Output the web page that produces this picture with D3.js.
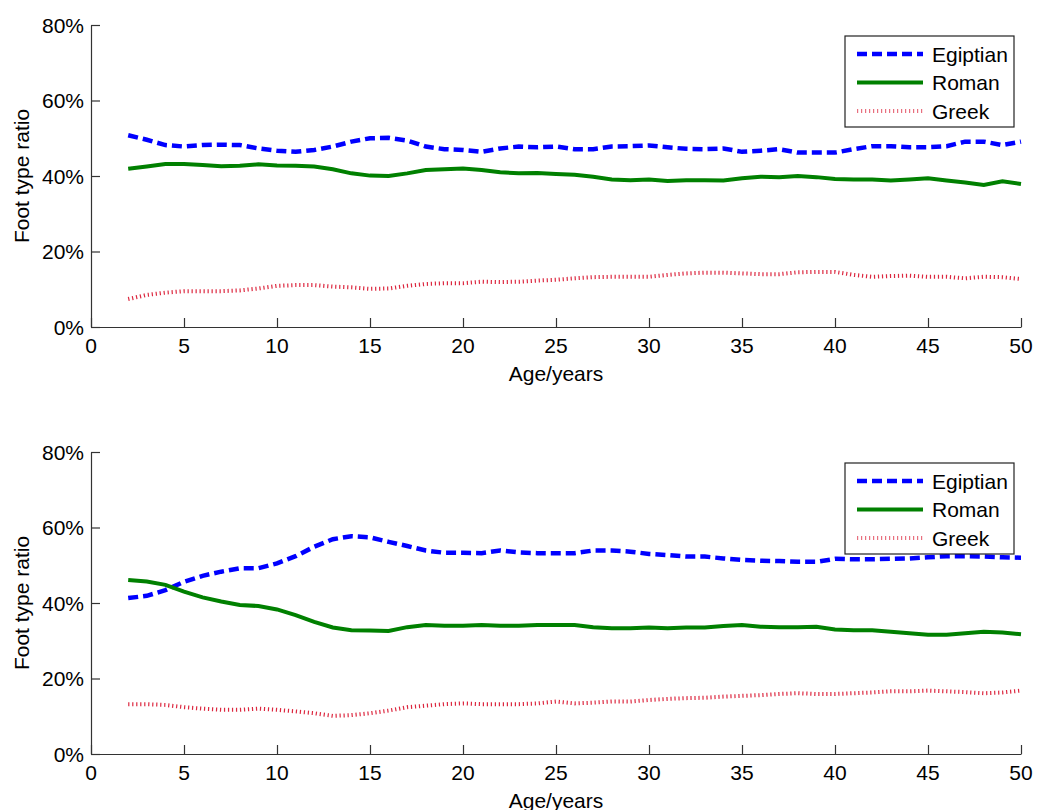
<!DOCTYPE html>
<html>
<head>
<meta charset="utf-8">
<script src="https://cdn.jsdelivr.net/npm/d3@7"></script>
<style>
  body { margin: 0; background: #fff; }
  svg { display: block; font-family: "Liberation Sans", Arial, sans-serif; }
</style>
</head>
<body>
<div id="chart"></div>
<script>
// ages sampled once a year
const ages = d3.range(2, 51);

const xTicks = [0, 5, 10, 15, 20, 25, 30, 35, 40, 45, 50];
const yTicks = [0, 20, 40, 60, 80];
const seriesNames = ["Egiptian", "Roman", "Greek"];

// upper panel (values in %)
const topEgiptian = [50.8, 49.6, 48.2, 47.8, 48.2, 48.3, 48.2, 47.3, 46.7, 46.4, 46.9, 47.8, 49.1, 50.0, 50.1, 49.4, 47.8, 47.1, 46.9, 46.4, 47.3, 47.8, 47.6, 47.8, 47.1, 47.1, 47.8, 47.9, 48.1, 47.6, 47.2, 47.1, 47.3, 46.4, 46.7, 47.1, 46.2, 46.2, 46.2, 47.1, 47.9, 47.9, 47.6, 47.6, 47.9, 49.1, 49.1, 48.2, 49.1];
const topRoman = [41.9, 42.5, 43.2, 43.2, 42.9, 42.6, 42.7, 43.1, 42.8, 42.7, 42.5, 41.8, 40.7, 40.1, 40.0, 40.7, 41.6, 41.8, 42.0, 41.6, 41.0, 40.7, 40.8, 40.5, 40.3, 39.8, 39.1, 38.9, 39.1, 38.7, 38.9, 38.9, 38.8, 39.4, 39.8, 39.7, 40.0, 39.7, 39.2, 39.1, 39.1, 38.8, 39.1, 39.4, 38.8, 38.3, 37.6, 38.6, 37.9];
const topGreek = [7.4, 8.5, 9.1, 9.5, 9.5, 9.5, 9.7, 10.2, 10.9, 11.1, 11.1, 10.7, 10.5, 10.1, 10.2, 10.9, 11.4, 11.6, 11.6, 12.0, 11.9, 12.0, 12.3, 12.5, 12.9, 13.2, 13.3, 13.3, 13.3, 13.8, 14.2, 14.4, 14.4, 14.2, 14.0, 14.0, 14.5, 14.6, 14.6, 13.8, 13.3, 13.5, 13.6, 13.3, 13.3, 12.9, 13.3, 13.2, 12.7];

// lower panel (values in %)
const bottomEgiptian = [41.3, 41.9, 43.4, 45.6, 47.2, 48.3, 49.2, 49.2, 50.5, 52.4, 54.9, 56.9, 57.7, 57.4, 56.2, 55.1, 53.9, 53.3, 53.3, 53.2, 53.9, 53.4, 53.2, 53.2, 53.2, 53.9, 53.9, 53.6, 53.0, 52.7, 52.3, 52.3, 51.8, 51.4, 51.2, 51.1, 50.9, 50.9, 51.7, 51.6, 51.6, 51.7, 51.8, 52.1, 52.4, 52.4, 52.3, 52.1, 52.0];
const bottomRoman = [46.1, 45.7, 44.8, 43.0, 41.5, 40.4, 39.5, 39.2, 38.3, 36.8, 35.0, 33.5, 32.8, 32.7, 32.6, 33.6, 34.2, 34.0, 34.0, 34.2, 34.0, 34.0, 34.2, 34.2, 34.2, 33.6, 33.3, 33.3, 33.5, 33.3, 33.5, 33.5, 33.9, 34.2, 33.7, 33.6, 33.6, 33.7, 33.0, 32.8, 32.8, 32.4, 32.0, 31.6, 31.6, 32.0, 32.4, 32.2, 31.7];
const bottomGreek = [13.2, 13.2, 13.0, 12.4, 12.0, 11.7, 11.7, 12.0, 11.7, 11.3, 10.8, 10.1, 10.3, 10.8, 11.5, 12.4, 12.8, 13.2, 13.4, 13.2, 13.2, 13.2, 13.4, 13.9, 13.4, 13.6, 13.9, 13.9, 14.3, 14.6, 14.8, 14.9, 15.2, 15.4, 15.6, 15.9, 16.1, 15.9, 15.9, 16.1, 16.3, 16.6, 16.6, 16.8, 16.6, 16.4, 16.1, 16.3, 16.8];

const width = 1037, height = 810;
const left = 91, right = 1021;

const styles = {
    Egiptian: { color: "#0000ff", width: 4.5, dash: "10,5", opacity: 1 },
    Roman: { color: "#008000", width: 4, dash: null, opacity: 1 },
    Greek: { color: "#d8102a", width: 4, dash: "1.2,2.8", opacity: 0.9 }
};

const svg = d3.select("#chart").append("svg")
    .attr("width", width)
    .attr("height", height);

const x = d3.scaleLinear().domain([0, 50]).range([left, right]);

function drawPanel(top, bottom, values) {
    const y = d3.scaleLinear().domain([0, 80]).range([bottom, top]);
    const g = svg.append("g");

    // axes, ticks pointing inward like matlab
    const xAxis = g.append("g")
        .attr("transform", `translate(0,${bottom})`)
        .call(d3.axisBottom(x).tickValues(xTicks).tickSizeInner(-9).tickSizeOuter(0).tickPadding(0));
    xAxis.selectAll("text").remove();

    const yAxis = g.append("g")
        .attr("transform", `translate(${left},0)`)
        .call(d3.axisLeft(y).tickValues(yTicks).tickSizeInner(-9).tickSizeOuter(0));
    yAxis.selectAll("text").remove();

    g.selectAll(".domain, .tick line").attr("stroke", "#333").attr("stroke-width", 1.2);

    g.selectAll(".xlab")
        .data(xTicks)
        .join("text")
        .attr("x", d => x(d))
        .attr("y", bottom + 26)
        .attr("text-anchor", "middle")
        .attr("font-size", 21)
        .text(d => d);

    g.selectAll(".ylab")
        .data(yTicks)
        .join("text")
        .attr("x", left - 7)
        .attr("y", d => y(d))
        .attr("dy", "0.36em")
        .attr("text-anchor", "end")
        .attr("font-size", 21)
        .text(d => d + "%");

    g.append("text")
        .attr("x", (left + right) / 2)
        .attr("y", bottom + 54)
        .attr("text-anchor", "middle")
        .attr("font-size", 21)
        .text("Age/years");

    g.append("text")
        .attr("transform", `translate(29,${(top + bottom) / 2}) rotate(-90)`)
        .attr("text-anchor", "middle")
        .attr("font-size", 21)
        .text("Foot type ratio");

    const line = d3.line()
        .x((d, i) => x(ages[i]))
        .y(d => y(d));

    seriesNames.forEach((name, k) => {
        const s = styles[name];
        g.append("path")
            .datum(values[k])
            .attr("fill", "none")
            .attr("stroke", s.color)
            .attr("stroke-width", s.width)
            .attr("stroke-dasharray", s.dash)
            .attr("stroke-opacity", s.opacity)
            .attr("d", line);
    });

    // legend
    const lg = g.append("g").attr("transform", `translate(845,${top + 11})`);
    lg.append("rect")
        .attr("width", 169)
        .attr("height", 91)
        .attr("fill", "#fff")
        .attr("stroke", "#222")
        .attr("stroke-width", 1.2);

    seriesNames.forEach((name, k) => {
        const s = styles[name];
        const cy = 18 + k * 28.5;
        lg.append("line")
            .attr("x1", 12).attr("x2", 78)
            .attr("y1", cy).attr("y2", cy)
            .attr("stroke", s.color)
            .attr("stroke-width", s.width)
            .attr("stroke-dasharray", s.dash)
            .attr("stroke-opacity", name === "Greek" ? 0.6 : s.opacity);
        lg.append("text")
            .attr("x", 87)
            .attr("y", cy)
            .attr("dy", "0.36em")
            .attr("font-size", 21)
            .text(name);
    });
}

drawPanel(25, 327, [topEgiptian, topRoman, topGreek]);
drawPanel(452, 754, [bottomEgiptian, bottomRoman, bottomGreek]);
</script>
</body>
</html>
